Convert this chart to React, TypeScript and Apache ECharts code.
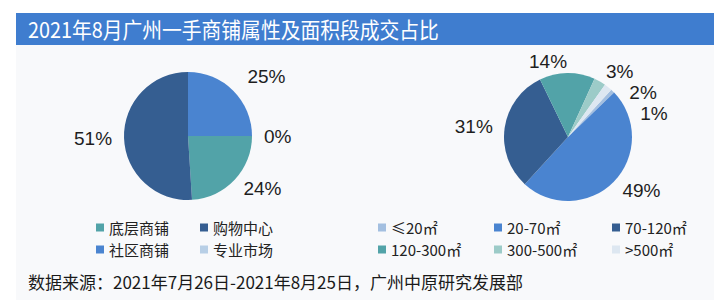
import React, { useEffect, useRef } from "react";
import * as echarts from "echarts";

const titleText = "2021年8月广州一手商铺属性及面积段成交占比";
const sourceText = "数据来源：2021年7月26日-2021年8月25日，广州中原研究发展部";

// Left pie: shop type
const typeNames = ["社区商铺", "专业市场", "底层商铺", "购物中心"];
const typeValues = [25, 0, 24, 51];
const typeColors = ["#4a84d0", "#b8cfe6", "#52a3a8", "#355e91"];
const typeLegendCol1 = ["底层商铺", "社区商铺"];
const typeLegendCol2 = ["购物中心", "专业市场"];

// Right pie: area band
const areaNames = ["≤20㎡", "20-70㎡", "70-120㎡", "120-300㎡", "300-500㎡", ">500㎡"];
const areaValues = [1, 49, 31, 14, 3, 2];
const areaColors = ["#a3bfe0", "#4a84d0", "#355e91", "#52a3a8", "#9ccbc8", "#dde7f1"];
const areaLegendCol1 = ["≤20㎡", "120-300㎡"];
const areaLegendCol2 = ["20-70㎡", "300-500㎡"];
const areaLegendCol3 = ["70-120㎡", ">500㎡"];

const CJK = "'Noto Sans CJK SC', 'Noto Sans', sans-serif";
const LATIN = "'Liberation Sans', Arial, sans-serif";

function legend(data: string[], left: number) {
  return {
    data,
    orient: "vertical",
    left,
    top: 220,
    padding: 0,
    itemGap: 7,
    itemWidth: 8,
    itemHeight: 8,
    icon: "rect",
    selectedMode: false,
    textStyle: { color: "#222", fontSize: 15, lineHeight: 15, fontFamily: CJK },
  };
}

function pieLabel() {
  return {
    show: true,
    position: "outside",
    formatter: "{c}%",
    fontSize: 19,
    fontFamily: LATIN,
    color: "#1e1e1e",
    distanceToLabelLine: 0,
  };
}

export default function App() {
  const ref = useRef<HTMLDivElement>(null);
  useEffect(() => {
    if (!ref.current) return;
    const chart = echarts.init(ref.current, null, { renderer: "svg" });
    chart.setOption({
      animation: false,
      backgroundColor: "#ffffff",
      graphic: [
        { type: "rect", shape: { x: 16, y: 45, width: 698, height: 255 }, style: { fill: "#f8f9fb" }, z: -10 },
        { type: "rect", shape: { x: 16, y: 13, width: 698, height: 32 }, style: { fill: "#3f7dcf" } },
        {
          type: "text",
          x: 28,
          y: 29,
          scaleX: 0.9,
          style: { text: titleText, fill: "#ffffff", fontSize: 22, fontFamily: CJK, verticalAlign: "middle" },
        },
        {
          type: "text",
          x: 28,
          y: 281,
          style: { text: sourceText, fill: "#1a1a1a", fontSize: 17, fontFamily: CJK, verticalAlign: "middle" },
        },
      ],
      legend: [
        legend(typeLegendCol1, 96),
        legend(typeLegendCol2, 200),
        legend(areaLegendCol1, 378),
        legend(areaLegendCol2, 494),
        legend(areaLegendCol3, 612),
      ],
      series: [
        {
          type: "pie",
          center: [188, 136],
          radius: 64,
          startAngle: 90,
          clockwise: true,
          label: pieLabel(),
          labelLine: { show: false, length: 12, length2: 0 },
          emphasis: { disabled: true },
          data: typeNames.map((n, i) => ({
            name: n,
            value: typeValues[i],
            itemStyle: { color: typeColors[i] },
            ...(i === 0 ? { labelLine: { show: false, length: 20, length2: 0 } } : {}),
          })),
        },
        {
          type: "pie",
          center: [568, 137],
          radius: 64,
          startAngle: 47.5,
          clockwise: true,
          label: pieLabel(),
          labelLine: { show: false, length: 12, length2: 0 },
          emphasis: { disabled: true },
          data: areaNames.map((n, i) => ({ name: n, value: areaValues[i], itemStyle: { color: areaColors[i] } })),
        },
      ],
    });
    return () => chart.dispose();
  }, []);
  return <div ref={ref} style={{ position: "fixed", left: 0, top: 0, width: 721, height: 307 }} />;
}
